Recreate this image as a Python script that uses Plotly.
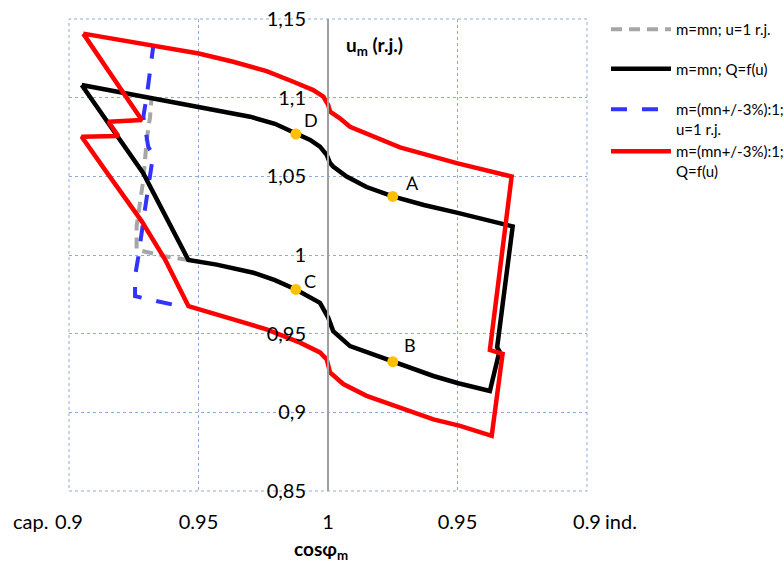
import plotly.graph_objects as go

# x axis: linear power-factor scale, -0.1 = cap. 0.9, 0 = 1, +0.1 = ind. 0.9
x_tickvals = [-0.1, -0.05, 0.0, 0.05, 0.1]
x_ticktext = ["0.9", "0.95", "1", "0.95", "0.9"]
y_tickvals = [0.85, 0.9, 0.95, 1.0, 1.05, 1.1, 1.15]
y_ticktext = ["0,85", "0,9", "0,95", "1", "1,05", "1,1", "1,15"]

# m=mn; u=1 r.j.
gray_x = [-0.0539, -0.0629, -0.0739, -0.0739, -0.0726, -0.0713, -0.0700, -0.0687, -0.0681]
gray_y = [0.9968, 0.9992, 1.0034, 1.0182, 1.0332, 1.0478, 1.0731, 1.0879, 1.1004]

# m=(mn+/-3%):1; u=1 r.j.
blue_x = [-0.0603, -0.0745, -0.0745, -0.0732, -0.0707, -0.0687, -0.0675, -0.0694,
          -0.0707, -0.0713, -0.0700, -0.0681, -0.0675]
blue_y = [0.9686, 0.9738, 0.9865, 0.9992, 1.0288, 1.0499, 1.0636, 1.0687,
          1.0837, 1.0879, 1.1006, 1.1238, 1.1323]

# m=mn; Q=f(u)
black_x = [-0.0951, -0.0687, -0.0494, -0.0398, -0.0301, -0.0205, -0.0124, -0.0069, -0.0031,
           -0.0005, 0.0008, 0.0020, 0.0072, 0.0149, 0.0250, 0.0370, 0.0497, 0.0676, 0.0713,
           0.0653, 0.0662, 0.0625,
           0.0503, 0.0407, 0.0250, 0.0149, 0.0085, 0.0020, 0.0001, -0.0031,
           -0.0124, -0.0205, -0.0288, -0.0430, -0.0539,
           -0.0714, -0.0951]
black_y = [1.1080, 1.0999, 1.0942, 1.0913, 1.0879, 1.0834, 1.0769, 1.0731, 1.0689,
           1.0636, 1.0584, 1.0562, 1.0499, 1.0432, 1.0372, 1.0318, 1.0269, 1.0199, 1.0182,
           0.9413, 0.9388, 0.9136,
           0.9185, 0.9231, 0.9322, 0.9380, 0.9421, 0.9516, 0.9601, 0.9696,
           0.9781, 0.9840, 0.9887, 0.9939, 0.9968,
           1.0522, 1.1080]

# m=(mn+/-3%):1; Q=f(u)
red_x = [-0.0945, -0.0752, -0.0499, -0.0366, -0.0237, -0.0134, -0.0057, -0.0018,
         0.0001, 0.0008, 0.0046, 0.0085, 0.0149, 0.0278, 0.0497, 0.0709,
         0.0625, 0.0674, 0.0632,
         0.0510, 0.0407, 0.0278, 0.0149, 0.0059, 0.0008, -0.0005, -0.0031,
         -0.0108, -0.0237, -0.0366, -0.0539,
         -0.0629, -0.0719, -0.0861, -0.0951,
         -0.0810, -0.0848, -0.0719, -0.0945]
red_y = [1.1407, 1.1354, 1.1281, 1.1228, 1.1169, 1.1101, 1.1048, 1.1006,
         1.0953, 1.0911, 1.0869, 1.0815, 1.0774, 1.0684, 1.0584, 1.0499,
         0.9396, 0.9371, 0.8851,
         0.8914, 0.8955, 0.9027, 0.9105, 0.9180, 0.9253, 0.9337, 0.9381,
         0.9443, 0.9527, 0.9591, 0.9675,
         0.9971, 1.0214, 1.0541, 1.0752,
         1.0757, 1.0847, 1.0858, 1.1407]

# operating points
pt_labels = ["D", "A", "C", "B"]
pt_x = [-0.0124, 0.0250, -0.0124, 0.0250]
pt_y = [1.0769, 1.0372, 0.9781, 0.9322]
pt_shift_x = [15, 20, 14, 17]
pt_shift_y = [14, 13, 8, 17]

FONT = "Lato, Carlito, Calibri, sans-serif"
GRID = "#8EAADB"

fig = go.Figure()
fig.add_trace(go.Scatter(x=gray_x, y=gray_y, mode="lines", name="m=mn; u=1 r.j.",
                         legend="legend", legendgroup="g1", legendrank=1,
                         line=dict(color="#A6A6A6", width=4, dash="11px,7px")))
fig.add_trace(go.Scatter(x=blue_x, y=blue_y, mode="lines", name="m=(mn+/-3%):1;<br>u=1 r.j.",
                         legend="legend2", legendgroup="g3", legendrank=3,
                         line=dict(color="#3333FF", width=4, dash="16px,15px")))
fig.add_trace(go.Scatter(x=black_x, y=black_y, mode="lines", name="m=mn; Q=f(u)",
                         legend="legend", legendgroup="g2", legendrank=2,
                         line=dict(color="#000000", width=4.5)))
fig.add_trace(go.Scatter(x=red_x, y=red_y, mode="lines", name="m=(mn+/-3%):1;<br>Q=f(u)",
                         legend="legend2", legendgroup="g4", legendrank=4,
                         line=dict(color="#FF0000", width=4.5)))
fig.add_trace(go.Scatter(x=pt_x, y=pt_y, mode="markers", showlegend=False,
                         marker=dict(color="#FFC000", size=11)))

for lab, px, py, sx, sy in zip(pt_labels, pt_x, pt_y, pt_shift_x, pt_shift_y):
    fig.add_annotation(x=px, y=py, text=lab, showarrow=False, xshift=sx, yshift=sy,
                       font=dict(size=18, color="#000000", family=FONT))

# axis titles / side labels (plot area spans px 69..587 x 19..491)
fig.add_annotation(xref="paper", yref="paper", x=0.589, y=0.943, text="<b>u<sub>m</sub> (r.j.)</b>",
                   showarrow=False, xanchor="center", yanchor="middle",
                   font=dict(size=19, color="#000000", family=FONT))
fig.add_annotation(xref="paper", yref="paper", x=(321 - 69) / 518, y=(491 - 550) / 472,
                   text="<b>cosφ<sub>m</sub></b>",
                   showarrow=False, xanchor="center", yanchor="middle",
                   font=dict(size=19, color="#000000", family=FONT))
fig.add_annotation(xref="paper", yref="paper", x=-0.036, y=(491 - 521) / 472, text="cap.",
                   showarrow=False, xanchor="right", yanchor="middle",
                   font=dict(size=20, color="#000000", family=FONT))
fig.add_annotation(xref="paper", yref="paper", x=1.031, y=(491 - 521) / 472, text="ind.",
                   showarrow=False, xanchor="left", yanchor="middle",
                   font=dict(size=20, color="#000000", family=FONT))

fig.add_shape(type="rect", xref="paper", yref="paper", x0=0, x1=1, y0=0, y1=1,
              line=dict(color=GRID, width=1, dash="dot"), layer="below")

legend_common = dict(xref="container", yref="container", xanchor="left", yanchor="top",
                     valign="top", itemwidth=60, traceorder="grouped",
                     font=dict(size=15, family=FONT, color="#000000"),
                     bgcolor="rgba(0,0,0,0)")

fig.update_layout(
    width=784, height=563,
    margin=dict(l=69, r=197, t=19, b=72, autoexpand=False),
    paper_bgcolor="white", plot_bgcolor="white",
    font=dict(family=FONT, size=20, color="#000000"),
    xaxis=dict(range=[-0.1, 0.1], tickvals=x_tickvals, ticktext=x_ticktext,
               showgrid=True, gridcolor=GRID, griddash="dot", gridwidth=1,
               zeroline=False, showline=False, ticks="", ticklabelstandoff=17,
               automargin=False),
    yaxis=dict(range=[0.85, 1.15], tickvals=y_tickvals, ticktext=y_ticktext,
               showgrid=True, gridcolor=GRID, griddash="dot", gridwidth=1,
               zeroline=False, showline=True, linecolor="#A0A0A0", linewidth=2,
               anchor="free", position=0.5, side="left", ticks="",
               ticklabelstandoff=17, automargin=False),
    legend=dict(x=606 / 784, y=1 - 13 / 563, tracegroupgap=17, **legend_common),
    legend2=dict(x=606 / 784, y=1 - 93 / 563, tracegroupgap=0, **legend_common),
    showlegend=True,
)

fig.write_html("out.html", config={"displayModeBar": False},
               post_script="document.body.style.margin='0px';")
